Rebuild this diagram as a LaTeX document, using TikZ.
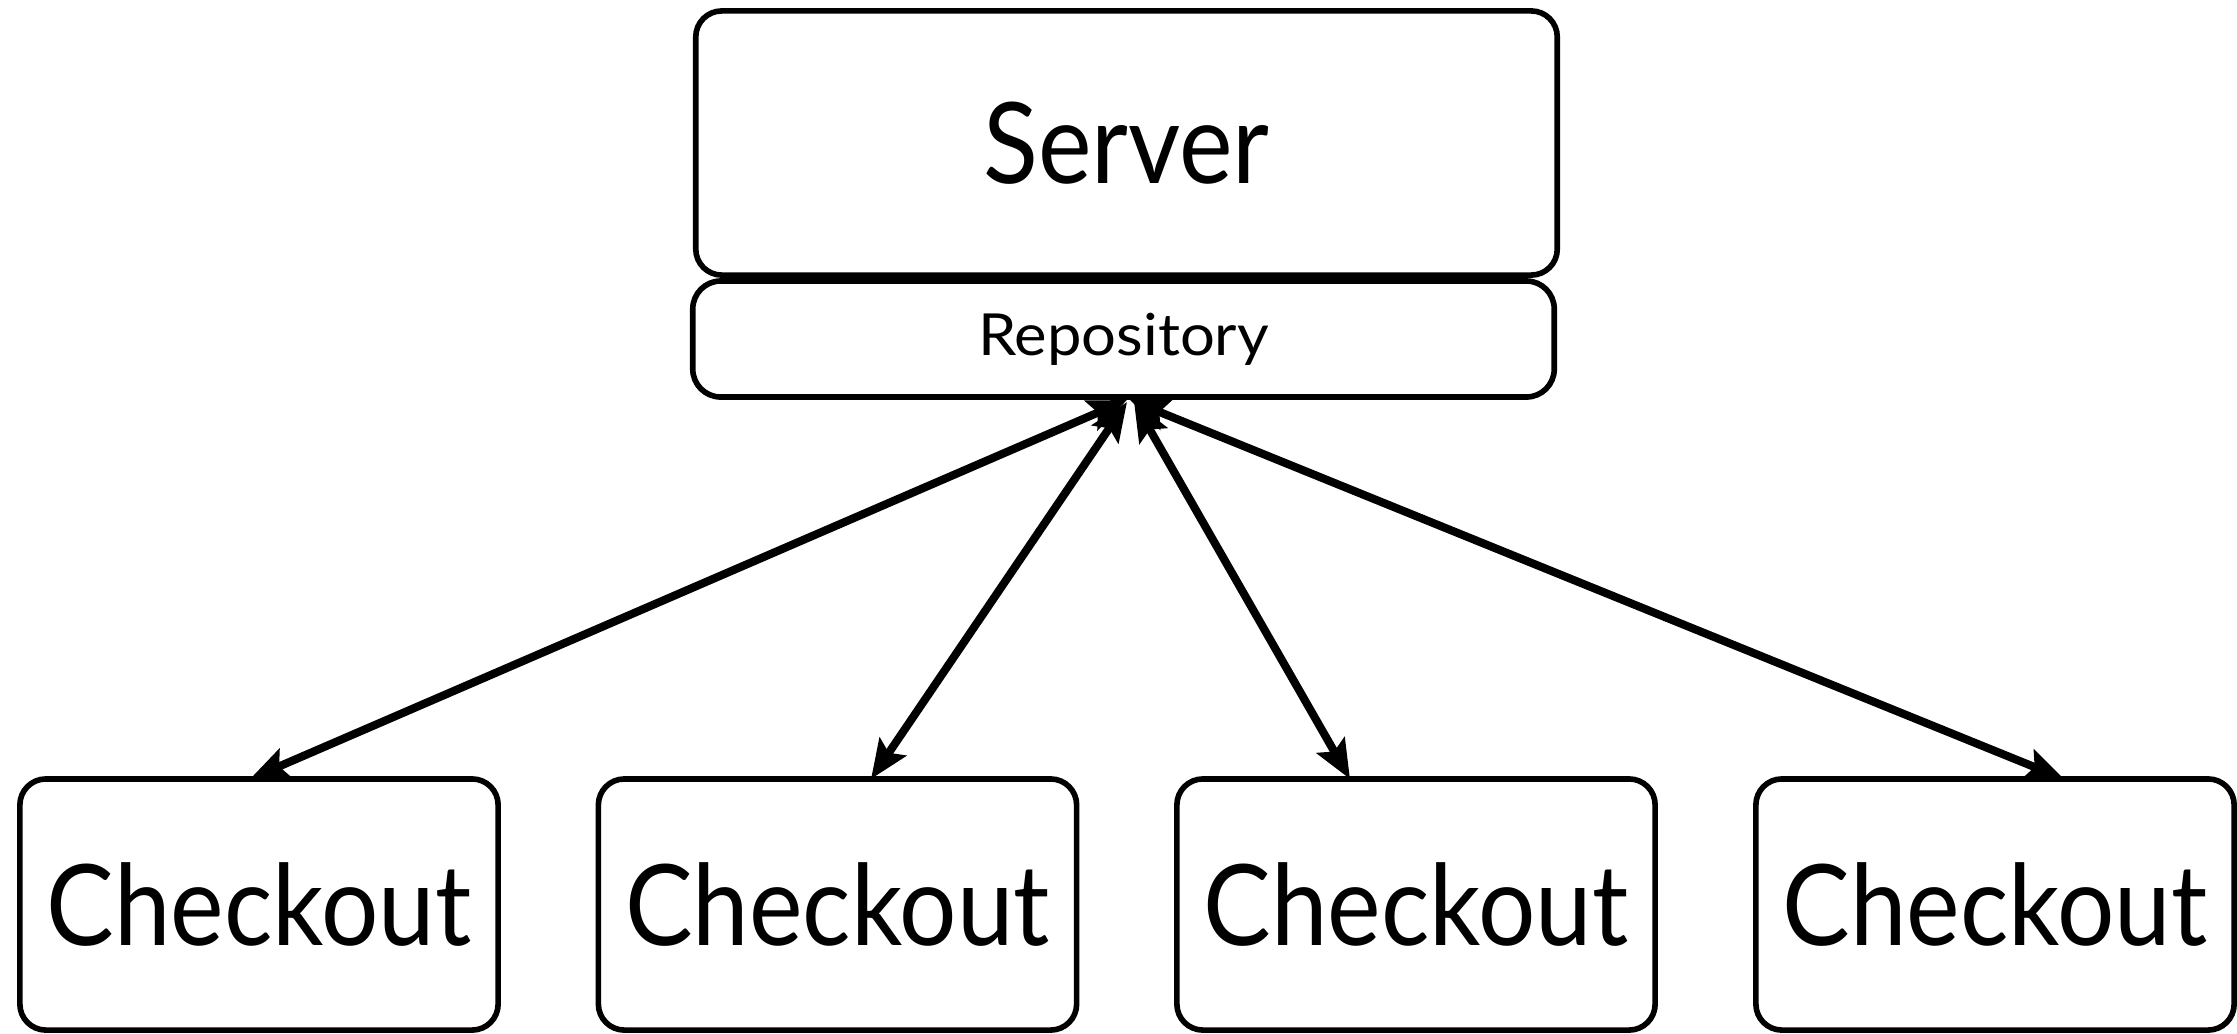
\documentclass[tikz,border=0pt]{standalone}
\usepackage{fontspec}
\setmainfont{Lato}
\newfontfamily\bigfont[FakeStretch=0.9]{Lato}
\newfontfamily\smallfont[FakeStretch=1.06]{Lato}
\usetikzlibrary{arrows.meta}
\begin{document}
\begin{tikzpicture}[x=0.01cm,y=-0.01cm,
  box/.style={draw, line width=1.6pt, fill=white, inner sep=0pt, align=center, rounded corners=0.26cm},
  bigtext/.style={font=\bigfont\fontsize{32}{36}\selectfont},
  smalltext/.style={font=\smallfont\fontsize{16.5}{19}\selectfont},
  chk/.style={box, bigtext, minimum width=4.78cm, minimum height=2.51cm},
  link/.style={line width=2.3pt, {Stealth[length=11pt,width=9pt,inset=2pt]}-{Stealth[length=11pt,width=9pt,inset=2pt]}}]
\useasboundingbox (0,0) rectangle (2237,1033);
\node[box, bigtext, minimum width=8.61cm, minimum height=2.64cm] (server) at (1126.5,143) {Server};
\node[box, smalltext, rounded corners=0.28cm, minimum width=8.61cm, minimum height=1.16cm] (repo) at (1123.5,339) {Repository};
\node[chk] (c1) at (259,904.5) {Checkout};
\node[chk] (c2) at (837.5,904.5) {Checkout};
\node[chk] (c3) at (1416,904.5) {Checkout};
\node[chk] (c4) at (1995,904.5) {Checkout};
\coordinate (t1) at (1127,400);
\coordinate (t2) at (1127,402);
\coordinate (t3) at (1134,402);
\coordinate (t4) at (1130,400);
\coordinate (b1) at (250,779);
\coordinate (b2) at (871,779);
\coordinate (b3) at (1350,779);
\coordinate (b4) at (2064,779);
\draw[link] (t1) -- (b1);
\draw[link] (t2) -- (b2);
\draw[link] (t3) -- (b3);
\draw[link] (t4) -- (b4);
\end{tikzpicture}
\end{document}
